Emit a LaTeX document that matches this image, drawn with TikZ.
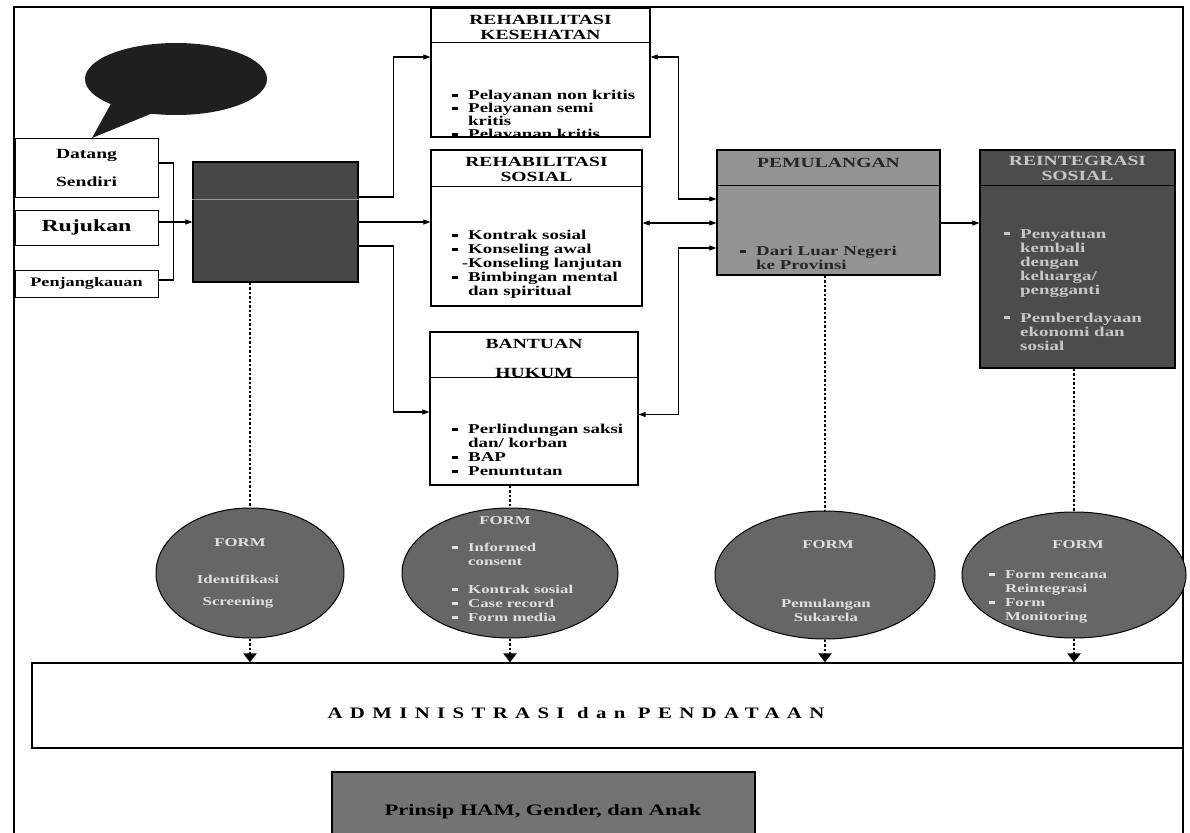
\documentclass[tikz,border=0pt]{standalone}
\usepackage{fontspec}
\setmainfont{Liberation Serif}[FakeStretch=1.4]
\newfontfamily\spacedfont{Liberation Serif}[FakeStretch=1.3, LetterSpace=46]
\usetikzlibrary{arrows.meta, shapes.geometric}
\newcommand{\itm}{\makebox[16pt][l]{\rule[0.2em]{6pt}{3pt}}}
\newcommand{\ind}{\hspace*{16pt}}

\begin{document}
\begin{tikzpicture}[x=1pt, y=-1pt,
    src/.style={draw, line width=1pt, fill=white, minimum width=143, inner sep=0pt,
                align=center, font=\bfseries\fontsize{14}{16}\selectfont},
    svc/.style={draw, line width=1.2pt, fill=white, inner sep=0pt},
    ttl/.style={font=\bfseries\fontsize{14}{15}\selectfont, align=center, inner sep=0pt},
    items/.style={font=\bfseries\fontsize{13.5}{14}\selectfont, align=left, anchor=north west, inner sep=0pt},
    form/.style={ellipse, draw, line width=1pt, fill=black!60, inner sep=0pt},
    ftxt/.style={font=\bfseries\fontsize{12}{14}\selectfont, text=black!12, align=center, inner sep=0pt},
    conn/.style={line width=1.1pt, -{Triangle[length=7pt, width=5pt]}},
    both/.style={line width=1.1pt, {Triangle[length=7pt, width=5pt]}-{Triangle[length=7pt, width=5pt]}},
    dots/.style={line width=2.5pt, dash pattern=on 2.5pt off 2pt},
    drop/.style={dots, -{Triangle[length=9pt, width=13pt]}}
]
    \useasboundingbox (0,0) rectangle (1190,832);
    \fill[white] (0,0) rectangle (1190,832);
    \clip (0,0) rectangle (1190,832);

    % Frame
    \draw[line width=1.3pt] (14,850) -- (14,7) -- (1183,7) -- (1183,850);

    % Speech bubble
    \fill[black!88] (176,79) ellipse [x radius=91, y radius=36];
    \fill[black!88] (113,100) -- (92,138) -- (165,108) -- cycle;

    % Entry points
    \node[src, minimum height=59] (datang) at (86.5,167.5) {Datang\\[12pt]Sendiri};
    \node[src, minimum height=35, font=\bfseries\fontsize{17}{19}\selectfont] (rujukan) at (86.5,227.5) {Rujukan};
    \node[src, minimum height=27, font=\bfseries\fontsize{13}{15}\selectfont] (jangkau) at (86.5,283.5) {Penjangkauan};

    % Identification box
    \node[svc, fill=black!72, minimum width=165, minimum height=120] (ident) at (275.5,222) {};
    \draw[black!40, line width=1pt] (ident.west |- 0,199) -- (ident.east |- 0,199);

    % Rehabilitasi Kesehatan
    \node[svc, minimum width=219, minimum height=129] (kes) at (540.5,72.5) {};
    \node[ttl] (kesT) at (540.5,27.5) {REHABILITASI\\KESEHATAN};
    \draw[line width=1pt] (kes.west |- 0,43) -- (kes.east |- 0,43);
    \begin{scope}
        \clip (kes.north west) rectangle (kes.south east);
        \node[items, font=\bfseries\fontsize{13.5}{13}\selectfont] (kesL) at (452,90) {\itm Pelayanan non kritis\\\itm Pelayanan semi\\\ind kritis\\\itm Pelayanan kritis};
    \end{scope}

    % Rehabilitasi Sosial
    \node[svc, minimum width=211, minimum height=156] (sos) at (536.5,228) {};
    \node[ttl] (sosT) at (536.5,169.5) {REHABILITASI\\SOSIAL};
    \draw[line width=1pt] (sos.west |- 0,186) -- (sos.east |- 0,186);
    \node[items] (sosL) at (452,230) {\itm Kontrak sosial\\\itm Konseling awal\\\makebox[16pt][r]{-}Konseling lanjutan\\\itm Bimbingan mental\\\ind dan spiritual};

    % Bantuan Hukum
    \node[svc, minimum width=208, minimum height=153] (huk) at (534,408.5) {};
    \node[ttl] (hukT) at (534,358.5) {BANTUAN\\[14pt]HUKUM};
    \draw[line width=1pt] (huk.west |- 0,377) -- (huk.east |- 0,377);
    \node[items] (hukL) at (452,424) {\itm Perlindungan saksi\\\ind dan/ korban\\\itm BAP\\\itm Penuntutan};

    % Pemulangan
    \node[svc, fill=black!42, minimum width=223, minimum height=125] (pem) at (828.5,212.5) {};
    \node[ttl, text=black!85] (pemT) at (828.5,163) {PEMULANGAN};
    \draw[line width=1pt] (pem.west |- 0,185) -- (pem.east |- 0,185);
    \node[items, text=black!85] (pemL) at (740,246) {\itm Dari Luar Negeri\\\ind ke Provinsi};

    % Reintegrasi Sosial
    \node[svc, fill=black!70, minimum width=195, minimum height=218] (rein) at (1077.5,259) {};
    \node[ttl, text=black!22] (reinT) at (1077.5,168.5) {REINTEGRASI\\SOSIAL};
    \draw[line width=1pt] (rein.west |- 0,185) -- (rein.east |- 0,185);
    \node[items, text=black!22] (reinL) at (1004,229) {\itm Penyatuan\\\ind kembali\\\ind dengan\\\ind keluarga/\\\ind pengganti\\[14pt]\itm Pemberdayaan\\\ind ekonomi dan\\\ind sosial};

    % Forms
    \node[form, minimum width=188, minimum height=130] (f1) at (250,573) {};
    \node[ftxt] (f1T) at (240,543) {FORM};
    \node[ftxt] (f1L) at (238,592) {Identifikasi\\[8pt]Screening};
    \node[form, minimum width=216, minimum height=130] (f2) at (510,573) {};
    \node[ftxt] (f2T) at (505,521) {FORM};
    \node[ftxt, align=left, anchor=north west] (f2L) at (452,543) {\itm Informed\\\ind consent\\[14pt]\itm Kontrak sosial\\\itm Case record\\\itm Form media};
    \node[form, minimum width=220, minimum height=128] (f3) at (825,575) {};
    \node[ftxt] (f3T) at (828,545) {FORM};
    \node[ftxt] (f3L) at (826,610) {Pemulangan\\Sukarela};
    \node[form, minimum width=224, minimum height=126] (f4) at (1074,575) {};
    \node[ftxt] (f4T) at (1078,545) {FORM};
    \node[ftxt, align=left, anchor=north west] (f4L) at (989,570) {\itm Form rencana\\\ind Reintegrasi\\\itm Form\\\ind Monitoring};

    % Administrasi dan pendataan
    \node[svc, minimum width=1151, minimum height=85] (admin) at (607.5,705.5) {};
    \node[font=\spacedfont\bfseries\fontsize{16}{18}\selectfont] (adminT) at (576,713) {ADMINISTRASI dan PENDATAAN};

    % Prinsip
    \node[svc, fill=black!55, minimum width=423, minimum height=80] (prinsip) at (543.5,812) {};
    \node[font=\bfseries\fontsize{16}{18}\selectfont] (prinsipT) at (543,812) {Prinsip HAM, Gender, dan Anak};

    % Connectors
    \draw[line width=1.1pt] ([yshift=4.5pt]datang.east) -- ++(15,0) |- ([yshift=3.5pt]jangkau.east);
    \draw[conn] (rujukan.east |- ident.west) -- (ident.west);
    \draw[conn] ([yshift=25pt]ident.east) -- ++(35,0) |- ([yshift=15.5pt]kes.west);
    \draw[conn] (ident.east) -- (ident.east -| sos.west);
    \draw[conn] ([yshift=-24pt]ident.east) -- ++(35,0) |- ([yshift=-3.5pt]huk.west);
    \draw[both] ([yshift=15.5pt]kes.east) -- ++(28,0) |- ([yshift=13.5pt]pem.west);
    \draw[both] ([yshift=5pt]sos.east) -- ([yshift=5pt]sos.east -| pem.west);
    \draw[both] ([yshift=-6pt]huk.east) -- ++(40,0) |- ([yshift=-35.5pt]pem.west);
    \draw[conn] ([yshift=-10.5pt]pem.east) -- ([yshift=-10.5pt]pem.east -| rein.west);

    % Dotted links
    \draw[dots] (ident.south -| f1.north) -- (f1.north);
    \draw[dots] (huk.south -| f2.north) -- (f2.north);
    \draw[dots] (pem.south -| f3.north) -- (f3.north);
    \draw[dots] (rein.south -| f4.north) -- (f4.north);
    \draw[drop] (f1.south) -- (f1.south |- admin.north);
    \draw[drop] (f2.south) -- (f2.south |- admin.north);
    \draw[drop] (f3.south) -- (f3.south |- admin.north);
    \draw[drop] (f4.south) -- (f4.south |- admin.north);
\end{tikzpicture}
\end{document}
